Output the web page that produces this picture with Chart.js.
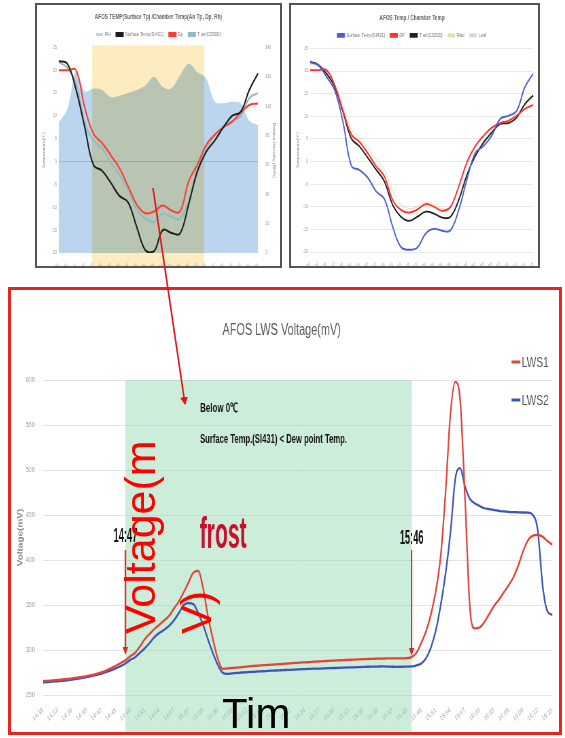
<!DOCTYPE html>
<html lang="en">
<head>
<meta charset="utf-8">
<title>AFOS LWS Voltage</title>
<script src="https://cdn.jsdelivr.net/npm/chart.js@4/dist/chart.umd.min.js"></script>
<style>
  html, body { margin: 0; padding: 0; background: #fff; }
  body { width: 565px; height: 738px; position: relative; overflow: hidden; }
  .frame { position: absolute; box-sizing: border-box; background: #fff; overflow: hidden; }
  .squeeze { position: absolute; left: 0; top: 0; transform-origin: 0 0; }
  #frameTL { left: 35px; top: 3px; width: 247px; height: 265px; border: 2px solid #555; }
  #frameTR { left: 289px; top: 3px; width: 251px; height: 265px; border: 2px solid #555; }
  #frameLWS { left: 8px; top: 287px; width: 554px; height: 448px; border: 3px solid #e3261f; }
  #overlay { position: absolute; left: 0; top: 0; pointer-events: none; }
</style>
</head>
<body>
<div class="frame" id="frameTL"><div class="squeeze" id="wrapTL"><canvas id="chartTL"></canvas></div></div>
<div class="frame" id="frameTR"><div class="squeeze" id="wrapTR"><canvas id="chartTR"></canvas></div></div>
<div class="frame" id="frameLWS"><div class="squeeze" id="wrapLWS"><canvas id="chartLWS"></canvas></div></div>

<svg id="overlay" width="565" height="738" xmlns="http://www.w3.org/2000/svg">
  <defs>
    <marker id="head" markerWidth="8" markerHeight="8" refX="7" refY="4" orient="auto" markerUnits="userSpaceOnUse">
      <path d="M0,0 L8,4 L0,8 z" fill="#e8141b"/>
    </marker>
  </defs>
  <line x1="153" y1="188" x2="185" y2="404" stroke="#e8141b" stroke-width="1.6" marker-end="url(#head)"/>
  <g font-family="'Liberation Sans', Arial, sans-serif" font-size="43">
    <text transform="translate(154.5,634) rotate(-90)" fill="#ff0000">Voltage(m</text>
    <text transform="translate(211,634) rotate(-90)" fill="#ff0000">V)</text>
    <text x="222" y="728" font-size="42" fill="#000">Tim</text>
  </g>
</svg>

<script>
// ---------- time axes ----------
const lwsTimes = [
  "14:30","14:31","14:32","14:33","14:34","14:35","14:36","14:37","14:38","14:39",
  "14:40","14:41","14:42","14:43","14:44","14:45","14:46","14:47","14:48","14:49",
  "14:50","14:51","14:52","14:53","14:54","14:55","14:56","14:57","14:58","14:59",
  "15:00","15:01","15:02","15:03","15:04","15:05","15:06","15:07","15:08","15:09",
  "15:10","15:11","15:12","15:13","15:14","15:15","15:16","15:17","15:18","15:19",
  "15:20","15:21","15:22","15:23","15:24","15:25","15:26","15:27","15:28","15:29",
  "15:30","15:31","15:32","15:33","15:34","15:35","15:36","15:37","15:38","15:39",
  "15:40","15:41","15:42","15:43","15:44","15:45","15:46","15:47","15:48","15:49",
  "15:50","15:51","15:52","15:53","15:54","15:55","15:56","15:57","15:58","15:59",
  "16:00","16:01","16:02","16:03","16:04","16:05","16:06","16:07","16:08","16:09",
  "16:10","16:11","16:12","16:13","16:14","16:15"
];
const tempTimesA = [
  "14:30","14:35","14:40","14:45","14:50","14:55","15:00","15:05","15:10","15:15","15:20","15:25",
  "15:30","15:35","15:40","15:45","15:50","15:55","16:00","16:05","16:10","16:15","16:20","16:25"
];
const tempTimesB = [
  "14:30","14:34","14:38","14:42","14:46","14:50","14:54","14:58","15:02","15:06","15:10","15:14","15:18","15:22",
  "15:26","15:30","15:34","15:38","15:42","15:46","15:50","15:54","15:58","16:02","16:06","16:10","16:14","16:18"
];

// ---------- LWS voltage (mV), one value per minute ----------
const lws1 = [
  265.5,265.8,266.2,266.7,267.2,267.8,268.4,269.2,270,271,
  272.2,273.6,275.2,277.2,279.5,282.5,285.5,288.5,293,297,
  304,312,318,323.5,328,333,338,346,354,364,
  375,386,388,369,338,313,291,279,279.5,280,
  280.5,281,281.5,282,282.5,283,283.3,283.7,284,284.4,
  284.8,285.2,285.6,286,286.3,286.6,287,287.3,287.6,288,
  288.2,288.5,288.8,289,289.3,289.5,289.8,290,290.2,290.4,
  290.5,290.6,290.7,290.8,290.8,291,292,297,308,321,
  340,366,405,475,562,598,578,470,348,324,
  325,331,340,349,356,364,372,381,394,410,
  422,427,428,426,421,417
];
const lws2 = [
  264,264.4,264.8,265.3,265.8,266.4,267.2,268,268.9,269.9,
  271,272.3,273.6,275.3,277.3,279.5,282,285,289,292,
  297,302,308,314.5,319,322.5,327,333,341,350,
  352,351,341,328,312,297,284,275,273.5,274,
  274.5,275,275.3,275.6,276,276.3,276.6,277,277.2,277.5,
  277.8,278,278.3,278.5,278.8,279,279.2,279.4,279.6,279.8,
  280,280.2,280.4,280.6,280.8,281,281.2,281.4,281.5,281.6,
  281.7,281.6,281.4,281.3,281.4,281.6,281.7,283,285,291,
  303,322,350,385,430,490,502,482,468,463,
  460,457.5,456.5,455.5,454.7,454,453.5,453.2,453,452.8,
  452.6,450,433,372,343,339
];
const lwsTicks = [250, 600, 50];          // min, max, step
const frostWindow = ["14:47", "15:46"];    // below 0℃ period

// ---------- AFOS TEMP / Chamber Temp (℃, RH %) ----------
const surfA = [22,21.4,15.7,7.5,-0.7,-2,-4.6,-7.5,-8.9,-14.3,-19.4,-19.6,-15,-15.6,-15.7,-9.3,-2.1,2.1,4.6,7.5,10,10.9,15.7,19.3];
const dpA   = [20,20,20,11.8,6.1,4.1,1.4,-1.4,-5.4,-9.4,-11.3,-10.9,-9.6,-10.7,-10.9,-4.3,-0.7,3.6,5.9,7.5,8.7,10.7,12.4,12.7];
const tairA = [21.8,20.5,17.1,8.6,4.6,2.9,-0.1,-2.9,-6.1,-10.4,-12.5,-13.2,-11.4,-12.1,-12.5,-8.6,-2.1,2.9,5.7,7.7,8.9,10,13.9,15];
const rhA   = [89,98,124,110,112,111,106,107,109,111,114,120,113,112,121,129,123,119,103,102,103,102,90,87];
const bandA = [3.85, 16.8];               // shaded span on the category axis

// ---------- AFOS Temp / Chamber Temp (℃) ----------
const surfB = [21.9,21.3,18.7,15.7,8.6,-0.9,-1.9,-3.6,-6.6,-8.3,-14.4,-18.9,-19.5,-19,-15.9,-14.9,-15.3,-15.2,-10.7,-3.9,1.9,3.4,5.7,9.4,10.1,11.2,16.4,19.4];
const dpB   = [20.2,20.2,20.2,16.8,11.2,6,4.3,1.8,-1,-3.3,-8.5,-10.7,-11.3,-10.6,-9.4,-10,-10.9,-10,-5.5,-0.1,3.4,5.7,7.5,8.5,9,10.1,11.6,12.5];
const tairB = [22,21.4,19.4,16.4,10.9,5.1,3.3,0.8,-1.8,-4.4,-9.6,-12.2,-13.1,-12.2,-11.1,-11.5,-12.4,-12.2,-8.5,-2.9,1.2,4.2,6.4,8.3,8.5,9.7,12.7,14.6];
const radB  = [21.5,21,19.5,17,12,7.2,5.5,3,0.5,-1.8,-6.5,-9.5,-10.4,-10,-9,-9.6,-10.5,-10,-6,-0.8,2.8,5.2,7.2,8.5,9.2,10.5,12.5,14];
const leafB = [];
const tempTicks = [-20, 25, 5];
const rhTicks = [0, 140, 20];

// ---------- rendering ----------
const SQ = 0.68;   // horizontal compression of every chart canvas
Chart.defaults.font.family = "'Liberation Sans', Arial, sans-serif";
Chart.defaults.animation = false;
Chart.defaults.color = '#8a8a8a';

function prepCanvas(canvasId, wrapId, w, h) {
  const c = document.getElementById(canvasId);
  const cw = Math.round(w / SQ);
  c.width = cw; c.height = h;
  c.style.width = cw + 'px'; c.style.height = h + 'px';
  document.getElementById(wrapId).style.transform = 'scaleX(' + SQ + ')';
  return c;
}

function squeezedText(ctx, text, x, y, font, color, width, align) {
  ctx.save();
  ctx.font = font;
  const m = ctx.measureText(text).width;
  ctx.translate(x, y);
  ctx.scale(width / m, 1);
  ctx.fillStyle = color;
  ctx.textAlign = align || 'left';
  ctx.textBaseline = 'alphabetic';
  ctx.fillText(text, 0, 0);
  ctx.restore();
}

function downArrow(ctx, x, y0, y1, color) {
  ctx.save();
  ctx.strokeStyle = color; ctx.fillStyle = color; ctx.lineWidth = 2;
  ctx.beginPath(); ctx.moveTo(x, y0); ctx.lineTo(x, y1 - 6); ctx.stroke();
  ctx.beginPath(); ctx.moveTo(x - 4, y1 - 8); ctx.lineTo(x + 4, y1 - 8); ctx.lineTo(x, y1); ctx.closePath(); ctx.fill();
  ctx.restore();
}

function fixedWidth(px) { return function (s) { s.width = px; s.paddingTop = 0; s.paddingBottom = 0; }; }
function fixedHeight(px) { return function (s) { s.height = px; s.paddingLeft = 0; s.paddingRight = 0; }; }
const byIndex = (a, b) => a.datasetIndex - b.datasetIndex;

// ===== AFOS TEMP(Surface Tp) /Chamber Temp(Air Tp, Dp, Rh) =====
const cTL = prepCanvas('chartTL', 'wrapTL', 243, 261);
const bandPluginA = {
  id: 'coldBand',
  afterDatasetDraw(chart, args) {
    if (args.index !== 0) return;
    const { ctx, chartArea, scales: { x } } = chart;
    const x0 = x.getPixelForValue(bandA[0]);
    const x1 = x.getPixelForValue(bandA[1]);
    ctx.save();
    ctx.globalCompositeOperation = 'multiply';
    ctx.fillStyle = 'rgb(252,236,192)';
    ctx.fillRect(x0, chartArea.top - 2, x1 - x0, chart.height - chartArea.top + 2);
    ctx.restore();
  }
};
new Chart(cTL, {
  type: 'line',
  data: {
    labels: tempTimesA,
    datasets: [
      { label: 'RH', data: rhA, yAxisID: 'y1', order: 10, fill: 'origin',
        backgroundColor: 'rgba(91,155,213,0.42)', borderColor: 'rgba(91,155,213,0.42)', borderWidth: 0, tension: 0.3, pointRadius: 0 },
      { label: 'Surface Temp(SI431)', data: surfA, yAxisID: 'y', borderColor: '#1c1c1c', backgroundColor: '#1c1c1c', borderWidth: 2, tension: 0.4, pointRadius: 0 },
      { label: 'Dp', data: dpA, yAxisID: 'y', borderColor: '#ff3b30', backgroundColor: '#ff3b30', borderWidth: 2, tension: 0.4, pointRadius: 0 },
      { label: 'T air(CS500)', data: tairA, yAxisID: 'y', borderColor: '#8fbcc0', backgroundColor: '#8fbcc0', borderWidth: 2, tension: 0.4, pointRadius: 0 }
    ]
  },
  options: {
    responsive: false,
    layout: { padding: 0 },
    plugins: {
      title: { display: true, text: 'AFOS TEMP(Surface Tp) /Chamber Temp(Air Tp, Dp, Rh)', color: '#666', font: { size: 7 }, padding: { top: 8, bottom: 2 } },
      legend: { display: true, labels: { boxWidth: 10, boxHeight: 3, font: { size: 6 }, color: '#777', padding: 8, sort: byIndex } },
      tooltip: { enabled: false }
    },
    scales: {
      x: { grid: { display: false }, border: { display: false },
           ticks: { autoSkip: false, minRotation: 34, maxRotation: 34, font: { size: 5 }, color: '#aaa', padding: 1 },
           afterFit: fixedHeight(13) },
      y: { min: tempTicks[0], max: tempTicks[1], ticks: { stepSize: tempTicks[2], font: { size: 5 }, color: '#999', padding: 3 },
           grid: { drawTicks: false, color: c => c.tick.value === 0 ? '#f0c85a' : 'rgba(0,0,0,0)' }, border: { display: false },
           title: { display: true, text: 'Temperature(℃)', font: { size: 5 }, color: '#888', padding: { top: 8, bottom: 0 } },
           afterFit: fixedWidth(32) },
      y1: { position: 'right', min: rhTicks[0], max: rhTicks[1], ticks: { stepSize: rhTicks[2], font: { size: 5 }, color: '#999', padding: 3 },
            grid: { display: false }, border: { display: false },
            title: { display: true, text: 'Relative Humidity (RH%)', font: { size: 5 }, color: '#888', padding: { top: 6, bottom: 0 } },
            afterFit: fixedWidth(32) }
    }
  },
  plugins: [bandPluginA]
});

// ===== AFOS Temp / Chamber Temp =====
const cTR = prepCanvas('chartTR', 'wrapTR', 247, 261);
new Chart(cTR, {
  type: 'line',
  data: {
    labels: tempTimesB,
    datasets: [
      { label: 'Surface Temp(SI431)', data: surfB, borderColor: '#4a5fd0', backgroundColor: '#4a5fd0', borderWidth: 1.8, tension: 0.4, pointRadius: 0 },
      { label: 'DP', data: dpB, borderColor: '#ff3030', backgroundColor: '#ff3030', borderWidth: 1.8, tension: 0.4, pointRadius: 0 },
      { label: 'T air(CS500)', data: tairB, borderColor: '#222', backgroundColor: '#222', borderWidth: 1.8, tension: 0.4, pointRadius: 0 },
      { label: 'Rad', data: radB, borderColor: 'rgba(232,218,160,0.9)', backgroundColor: 'rgba(232,218,160,0.9)', borderWidth: 1, tension: 0.4, pointRadius: 0 },
      { label: 'Leaf', data: leafB, borderColor: '#d8d8d8', backgroundColor: '#d8d8d8', borderWidth: 1, pointRadius: 0 }
    ]
  },
  options: {
    responsive: false,
    layout: { padding: { right: 7 } },
    plugins: {
      title: { display: true, text: 'AFOS Temp / Chamber Temp', color: '#666', font: { size: 7 }, padding: { top: 9, bottom: 2 } },
      legend: { display: true, labels: { boxWidth: 10, boxHeight: 3, font: { size: 6 }, color: '#777', padding: 8 } },
      tooltip: { enabled: false }
    },
    scales: {
      x: { grid: { display: false }, border: { display: false },
           ticks: { autoSkip: false, minRotation: 34, maxRotation: 34, font: { size: 5 }, color: '#aaa', padding: 1 },
           afterFit: fixedHeight(14) },
      y: { min: tempTicks[0], max: tempTicks[1], ticks: { stepSize: tempTicks[2], font: { size: 5 }, color: '#999', padding: 3 },
           grid: { drawTicks: false, color: '#e8e8e8' }, border: { display: false },
           title: { display: true, text: 'Temperature(℃)', font: { size: 5 }, color: '#888', padding: { top: 8, bottom: 0 } },
           afterFit: fixedWidth(28) }
    }
  }
});

// ===== AFOS LWS Voltage(mV) =====
const cLWS = prepCanvas('chartLWS', 'wrapLWS', 548, 442);
const frostPlugin = {
  id: 'frostNotes',
  beforeDatasetsDraw(chart) {
    const { ctx, chartArea, scales: { x } } = chart;
    const x0 = x.getPixelForValue(lwsTimes.indexOf(frostWindow[0]));
    const x1 = x.getPixelForValue(lwsTimes.indexOf(frostWindow[1]));
    ctx.save();
    ctx.fillStyle = 'rgba(140,215,170,0.45)';
    ctx.fillRect(x0, chartArea.top, x1 - x0, chart.height - chartArea.top);
    ctx.restore();
  },
  afterDatasetsDraw(chart) {
    const { ctx, scales: { x } } = chart;
    const x0 = x.getPixelForValue(lwsTimes.indexOf(frostWindow[0]));
    const x1 = x.getPixelForValue(lwsTimes.indexOf(frostWindow[1]));
    squeezedText(ctx, 'Below 0℃', 278, 122, 'bold 13px "Liberation Sans", Arial', '#111', 56);
    squeezedText(ctx, 'Surface Temp.(SI431) < Dew point Temp.', 278, 153, 'bold 12px "Liberation Sans", Arial', '#111', 216);
    squeezedText(ctx, frostWindow[0], x0, 252, 'bold 20px "Liberation Sans", Arial', '#111', 35, 'center');
    squeezedText(ctx, frostWindow[1], x1, 254, 'bold 20px "Liberation Sans", Arial', '#111', 35, 'center');
    downArrow(ctx, x0, 260, 365, '#e3261f');
    downArrow(ctx, x1, 260, 366, '#e3261f');
    squeezedText(ctx, 'frost', 312, 258, 'bold 45px "Liberation Sans", Arial', '#c8102e', 69, 'center');
    // legend
    chart.data.datasets.forEach((ds, i) => {
      const y = 72 + i * 38;
      ctx.save();
      ctx.strokeStyle = ds.borderColor; ctx.lineWidth = 3;
      ctx.beginPath(); ctx.moveTo(736, y); ctx.lineTo(749, y); ctx.stroke();
      ctx.fillStyle = '#595959'; ctx.font = '15px "Liberation Sans", Arial';
      ctx.textBaseline = 'middle'; ctx.textAlign = 'left';
      ctx.fillText(ds.label, 751, y + 1);
      ctx.restore();
    });
  }
};
new Chart(cLWS, {
  type: 'line',
  data: {
    labels: lwsTimes,
    datasets: [
      { label: 'LWS1', data: lws1, borderColor: '#e2443a', backgroundColor: '#e2443a', borderWidth: 2.3, cubicInterpolationMode: 'monotone', pointRadius: 0 },
      { label: 'LWS2', data: lws2, borderColor: '#3d55b8', backgroundColor: '#3d55b8', borderWidth: 2.3, cubicInterpolationMode: 'monotone', pointRadius: 0 }
    ]
  },
  options: {
    responsive: false,
    layout: { padding: { left: 0, right: 10, top: 0, bottom: 0 } },
    plugins: {
      title: { display: true, text: 'AFOS LWS Voltage(mV)', color: '#595959', font: { size: 16, weight: 'normal' }, padding: { top: 31, bottom: 39.8 } },
      legend: { display: false },
      tooltip: { enabled: false }
    },
    scales: {
      x: { grid: { display: false }, border: { display: false },
           ticks: { autoSkip: false, minRotation: 34, maxRotation: 34, font: { size: 7 }, color: '#a8a8a8', padding: 3,
                    callback: function (v, i) { return i % 3 === 0 ? this.getLabelForValue(v) : null; } },
           afterFit: fixedHeight(37) },
      y: { min: lwsTicks[0], max: lwsTicks[1],
           ticks: { stepSize: lwsTicks[2], font: { size: 8 }, color: '#a0a0a0', padding: 12 },
           grid: { drawTicks: false, color: '#e3e3e3', lineWidth: 1 }, border: { display: false },
           title: { display: true, text: 'Voltage(mV)', font: { size: 10, weight: 'bold' }, color: '#8c8c8c', padding: { top: 8, bottom: 0 } },
           afterFit: fixedWidth(47) }
    }
  },
  plugins: [frostPlugin]
});
</script>
</body>
</html>
